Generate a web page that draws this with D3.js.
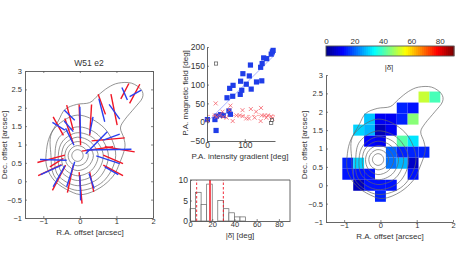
<!DOCTYPE html>
<html>
<head>
<meta charset="utf-8">
<script src="https://cdn.jsdelivr.net/npm/d3@7"></script>
<style>
html,body{margin:0;padding:0;background:#fff;}
svg{display:block;}
text{font-family:"Liberation Sans",Arial,sans-serif;fill:#333;}
</style>
</head>
<body>
<svg id="fig" width="471" height="275"></svg>
<script>
// vectors, arcsec: [ra1, dec1, ra2, dec2]
var redSegs = [
 [1.34,2.66,1.12,2.24],[1.64,2.64,1.36,2.12],[0.50,2.37,0.70,1.82],[0.85,2.37,1.02,1.53],
 [0.32,2.09,0.27,1.25],[-0.73,1.75,-0.45,1.25],[-0.36,2.07,-0.18,1.39],[-0.41,1.71,-0.18,1.03],
 [-0.02,2.09,0.02,0.98],[-1.16,0.51,-0.41,0.71],[-1.14,0.15,-0.5,0.45],[-0.75,-0.25,-0.39,0.44],
 [-0.82,0.39,-0.45,0.62],[-0.34,-0.31,-0.18,0.44],[-0.02,0.25,0.06,-0.61],[0.68,0.94,1.5,0.8],
 [0.64,0.71,1.18,0.48],[0.64,0.44,1.18,0.15],[0.27,0.25,0.38,-0.29],[0.32,1.1,1.23,1.18],
 [0.05,0.82,0.91,0.94]
];
var blueSegs = [
 [1.15,2.55,1.3,2.21],[1.68,2.48,1.36,2.3],[0.52,2.25,0.68,1.62],[0.8,2.09,1.09,1.69],
 [0.36,1.75,0.27,1.3],[-0.75,1.6,-0.41,1.39],[-0.43,1.94,-0.14,1.66],[-0.43,1.64,-0.18,1.35],
 [-0.39,1.44,-0.16,0.98],[0,2.03,0.02,1.16],[-1.09,0.59,-0.36,0.57],[-1.07,0.18,-0.5,0.44],
 [-0.73,-0.15,-0.41,0.42],[-0.36,-0.15,-0.14,0.53],[0,0.16,0.02,-0.52],[0.18,0.85,1.41,0.87],
 [0.45,0.69,1.09,0.48],[0.68,0.39,1.05,0.18],[0.25,0.21,0.39,-0.2],[0.64,1.12,1.09,1.28],
 [0.16,0.75,0.75,1.35]
];
// outer contour
var outerContour = [
 [0.77,2.55],[1.05,2.67],[1.41,2.67],[1.68,2.49],[1.71,2.27],[1.5,2.0],[1.23,1.68],[1.11,1.45],
 [1.2,1.18],[1.23,0.91],[1.09,0.5],[0.91,0.14],[0.55,-0.18],[0.09,-0.36],[-0.27,-0.27],[-0.68,0],
 [-0.91,0.41],[-0.91,0.86],[-0.82,1.23],[-0.59,1.64],[-0.41,1.95],[-0.09,2.09],[0.27,2.14],[0.5,2.34]
];
// inner contours around the peak, radius to E,NE,N,NW,W,SW,S,SE
var peak = [-0.07, 0.7];
var ringRadii = [
 [.16,.16,.16,.15,.15,.15,.16,.16],
 [.30,.28,.27,.25,.25,.26,.28,.29],
 [.44,.40,.38,.35,.34,.37,.41,.42],
 [.57,.52,.50,.46,.43,.50,.55,.56],
 [.71,.65,.62,.56,.52,.62,.68,.70],
 [.85,.80,.78,.70,.61,.75,.82,.85],
 [1.05,1.05,1.10,.95,.72,.85,.95,1.0]
];
// delta map cells: [ra, dec, delta]
var cells = [
 [1.2,2.4,51],[1.5,2.4,40],
 [0.6,2.1,15],[0.9,2.1,13],
 [-0.3,1.8,29],[0,1.8,11],[0.3,1.8,11],[0.6,1.8,15],[0.9,1.8,45],
 [-0.6,1.5,30],[-0.3,1.5,28],[0,1.5,5],[0.3,1.5,11],
 [-0.3,1.2,12],[0,1.2,10],[0.6,1.2,41],[0.9,1.2,31],
 [0.3,0.9,20],[0.6,0.9,15],[0.9,0.9,15],[1.2,0.9,15],
 [-0.9,0.6,15],[-0.6,0.6,30],[0.3,0.6,22],[0.6,0.6,28],[0.9,0.6,6],
 [-0.9,0.3,14],[-0.6,0.3,14],[-0.3,0.3,14],[0.9,0.3,14],
 [-0.6,0,5],[-0.3,0,14],[0,0,14],[0.3,0,14],
 [0,-0.3,15]
];
// scatter, deg
var fieldPts = [
 [1,7],[21,7],[25,16],[36,20],[43,18],[24,-22],[58,30],[62,21],[53,65],[60,90],[69,98],[68,69],
 [89,109],[95,129],[88,74],[92,85],[104,101],[112,123],[115,152],[117,88],[131,107],[145,110],
 [142,146],[146,156],[150,171],[158,169],[170,181],[173,187],[175,191]
];
var crossPts = [
 [1,5],[23,50],[25,14],[41,28],[43,14],[52,12],[59,32],[62,44],[68,3],[87,18],[94,32],[94,16],
 [104,10],[111,10],[116,35],[126,12],[130,28],[143,38],[145,18],[142,3],[153,18],[157,12],
 [161,18],[170,16],[173,10],[21,18],[34,18],[78,18]
];
var openPts = [[24,156],[170,-2],[172,6]];
var fitLine = [[0,0],[180,180]];
var meanLine = [[0,18],[180,18]];
// histogram
var binEdges = [0,5,10,15,20,25,30,35,40,45];
var binCounts = [3,7,4,9,0,5,3,2,1,1];
var meanDelta = 18;
var sigmaDelta = [6,30];
// jet colormap
var jetStops = [0,0.125,0.375,0.625,0.875,1];
var jetColors = ["#00008f","#0000ff","#00ffff","#ffff00","#ff0000","#800000"];

var jet = d3.scaleLinear().domain(jetStops).range(jetColors).clamp(true);
function deltaColor(d){ return jet(Math.floor(d/90*64)/63); }

var svg = d3.select("#fig");
var axisCol = "#555";

function styleAxis(g, fs){
    g.selectAll("path").attr("stroke",axisCol).attr("stroke-width",0.9);
    g.selectAll("line").attr("stroke",axisCol).attr("stroke-width",0.7);
    g.selectAll("text").attr("font-size",fs).attr("font-family","Liberation Sans").attr("fill","#333");
}
function minus(d){ return String(d).replace("-","\u2212"); }

function label(x,y,txt,fs,rot){
    var t = svg.append("text").attr("text-anchor","middle").attr("font-size",fs).text(txt);
    if(rot){ t.attr("transform","translate("+x+","+y+") rotate(-90)"); }
    else{ t.attr("x",x).attr("y",y); }
    return t;
}

// draws the two offset axes, box adds top and right lines
function offsetAxes(x,y,box){
    var l = x.range()[0], b = y.range()[0];
    var gx = svg.append("g").attr("transform","translate(0,"+b+")")
        .call(d3.axisBottom(x).tickValues([-1,0,1,2]).tickSizeInner(-2).tickSizeOuter(0).tickPadding(1).tickFormat(minus));
    styleAxis(gx,7.5);
    var gy = svg.append("g").attr("transform","translate("+l+",0)")
        .call(d3.axisLeft(y).tickValues([-1,-0.5,0,0.5,1,1.5,2,2.5,3]).tickSizeInner(-2).tickSizeOuter(0).tickPadding(3)
        .tickFormat(function(d){ return minus(d); }));
    styleAxis(gy,7.5);
    if(box){
        var gt = svg.append("g").attr("transform","translate(0,"+y.range()[1]+")")
            .call(d3.axisTop(x).tickValues([-1,0,1,2]).tickSizeInner(-2).tickSizeOuter(0).tickFormat(""));
        styleAxis(gt,8);
        var gr = svg.append("g").attr("transform","translate("+x.range()[1]+",0)")
            .call(d3.axisRight(y).tickValues([-1,-0.5,0,0.5,1,1.5,2,2.5,3]).tickSizeInner(-2).tickSizeOuter(0).tickFormat(""));
        styleAxis(gr,8);
    }
}

function drawContours(x,y){
    var line = d3.line().x(function(d){return x(d[0]);}).y(function(d){return y(d[1]);}).curve(d3.curveCardinalClosed.tension(0));
    var rings = ringRadii.map(function(r){
        return r.map(function(v,i){
            var a = i*Math.PI/4;
            return [peak[0]+v*Math.cos(a), peak[1]+v*Math.sin(a)];
        });
    });
    svg.append("g").selectAll("path").data([outerContour].concat(rings)).enter().append("path")
        .attr("d",line).attr("fill","none").attr("stroke","#666").attr("stroke-width",0.7);
}

// ---- left panel
var x1 = d3.scaleLinear().domain([-1.5,2]).range([25,153]);
var y1 = d3.scaleLinear().domain([-1,3]).range([218,71]);
drawContours(x1,y1);
function drawSegs(data,col){
    svg.append("g").selectAll("line").data(data).enter().append("line")
        .attr("x1",function(d){return x1(d[0]);}).attr("y1",function(d){return y1(d[1]);})
        .attr("x2",function(d){return x1(d[2]);}).attr("y2",function(d){return y1(d[3]);})
        .attr("stroke",col).attr("stroke-width",1.4);
}
drawSegs(redSegs,"#f01525");
drawSegs(blueSegs,"#2a40f0");
offsetAxes(x1,y1,true);
label(89,66,"W51 e2",8.5);
label(90,235,"R.A. offset [arcsec]",8);
label(7,145,"Dec. offset [arcsec]",8,true);

// ---- scatter
var x2 = d3.scaleLinear().domain([0,180]).range([207,275]);
var y2 = d3.scaleLinear().domain([-50,200]).range([141,47]);
var sLine = d3.line().x(function(d){return x2(d[0]);}).y(function(d){return y2(d[1]);});
svg.append("path").attr("d",sLine(fitLine)).attr("stroke","#a9b4ff").attr("stroke-width",1).attr("fill","none");
svg.append("path").attr("d",sLine(meanLine)).attr("stroke","#ff9a9a").attr("stroke-width",0.8).attr("stroke-dasharray","3,2").attr("fill","none");
svg.append("g").selectAll("rect").data(fieldPts).enter().append("rect")
    .attr("x",function(d){return x2(d[0])-2.6;}).attr("y",function(d){return y2(d[1])-2.6;})
    .attr("width",5.2).attr("height",5.2).attr("fill","#1f3de8");
svg.append("g").selectAll("path").data(crossPts).enter().append("path")
    .attr("transform",function(d){return "translate("+x2(d[0])+","+y2(d[1])+")";})
    .attr("d","M-2,-2L2,2M-2,2L2,-2").attr("stroke","#f5606a").attr("stroke-width",0.8).attr("fill","none");
svg.append("g").selectAll("rect").data(openPts).enter().append("rect")
    .attr("x",function(d){return x2(d[0])-1.6;}).attr("y",function(d){return y2(d[1])-1.6;})
    .attr("width",3.2).attr("height",3.2).attr("fill","none").attr("stroke","#555").attr("stroke-width",0.7);
var g2x = svg.append("g").attr("transform","translate(0,141)")
    .call(d3.axisBottom(x2).tickValues([0,100]).tickSizeInner(-2).tickSizeOuter(0).tickPadding(1));
styleAxis(g2x,8.5);
var g2y = svg.append("g").attr("transform","translate(207,0)")
    .call(d3.axisLeft(y2).tickValues([-50,0,50,100,150,200]).tickSizeInner(-2).tickSizeOuter(0).tickPadding(2).tickFormat(minus));
styleAxis(g2y,8.5);
label(240,159,"P.A. intensity gradient [deg]",8);
label(188,93,"P.A. magnetic field [deg]",8,true);

// ---- histogram
var x3 = d3.scaleLinear().domain([0,90]).range([190,290]);
var y3 = d3.scaleLinear().domain([0,10]).range([221,180]);
svg.append("g").selectAll("rect").data(binCounts).enter().append("rect")
    .attr("x",function(d,i){return x3(binEdges[i]);})
    .attr("y",function(d){return y3(d);})
    .attr("width",function(d,i){return x3(binEdges[i]+5)-x3(binEdges[i]);})
    .attr("height",function(d){return y3(0)-y3(d);})
    .attr("fill","#fff").attr("stroke","#666").attr("stroke-width",0.7);
svg.append("line").attr("x1",x3(meanDelta)).attr("x2",x3(meanDelta)).attr("y1",y3(0)).attr("y2",y3(10))
    .attr("stroke","#f5505a").attr("stroke-width",2);
svg.append("g").selectAll("line").data(sigmaDelta).enter().append("line")
    .attr("x1",function(d){return x3(d);}).attr("x2",function(d){return x3(d);})
    .attr("y1",y3(0)).attr("y2",y3(10)).attr("stroke","#f01525").attr("stroke-width",0.9).attr("stroke-dasharray","2.5,2");
var g3x = svg.append("g").attr("transform","translate(0,221)")
    .call(d3.axisBottom(x3).tickValues([0,20,40,60,80]).tickSizeInner(-2).tickSizeOuter(0).tickPadding(1));
styleAxis(g3x,7.5);
var g3y = svg.append("g").attr("transform","translate(190,0)")
    .call(d3.axisLeft(y3).tickValues([0,5,10]).tickSizeInner(-2).tickSizeOuter(0).tickPadding(2));
styleAxis(g3y,8.5);
svg.append("path").attr("d","M190,180H290V221").attr("fill","none").attr("stroke",axisCol).attr("stroke-width",0.9);
label(240,238,"|\u03b4\u0304| [deg]",8);

// ---- delta map
var x4 = d3.scaleLinear().domain([-1.5,2]).range([326,453]);
var y4 = d3.scaleLinear().domain([-1,3]).range([222,75]);
svg.append("g").selectAll("rect").data(cells).enter().append("rect")
    .attr("x",function(d){return x4(d[0]-0.15);}).attr("y",function(d){return y4(d[1]+0.15);})
    .attr("width",x4(0.3)-x4(0)).attr("height",y4(0)-y4(0.3))
    .attr("fill",function(d){return deltaColor(d[2]);});
drawContours(x4,y4);
offsetAxes(x4,y4,false);
label(390,239,"R.A. offset [arcsec]",8);
label(307,145,"Dec. offset [arcsec]",8,true);

// ---- colorbar
var xc = d3.scaleLinear().domain([0,90]).range([326,454]);
svg.append("g").selectAll("rect").data(d3.range(64)).enter().append("rect")
    .attr("x",function(i){return xc(i*90/64);}).attr("y",46)
    .attr("width",xc(90/64)-xc(0)+0.4).attr("height",10)
    .attr("fill",function(i){return jet(i/63);});
svg.append("rect").attr("x",326).attr("y",46).attr("width",128).attr("height",10)
    .attr("fill","none").attr("stroke",axisCol).attr("stroke-width",0.9);
var gc = svg.append("g").attr("transform","translate(0,46)")
    .call(d3.axisTop(xc).tickValues([0,20,40,60,80]).tickSizeInner(0).tickSizeOuter(0).tickPadding(2));
gc.select("path").remove();
styleAxis(gc,8);
label(389,70,"|\u03b4\u0304|",8);
</script>
</body>
</html>
